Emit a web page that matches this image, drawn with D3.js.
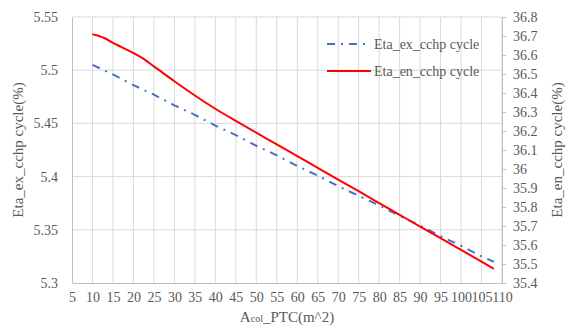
<!DOCTYPE html>
<html>
<head>
<meta charset="utf-8">
<script src="https://cdn.jsdelivr.net/npm/d3@7"></script>
</head>
<body style="margin:0">
<script>
// x values (Acol_PTC, m^2)
const xEx = [10, 15, 20, 25, 30, 35, 40, 45, 50, 55, 60, 65, 70, 75, 80, 85, 90, 95, 100, 105, 108];
const etaEx = [5.505, 5.496, 5.486, 5.477, 5.467, 5.458, 5.448, 5.439, 5.429, 5.420, 5.410,
               5.401, 5.391, 5.382, 5.373, 5.363, 5.354, 5.344, 5.335, 5.325, 5.320];
const xEn = [10, 11, 12, 13, 15, 17, 20, 22, 25, 30, 35, 40, 45, 50, 55, 60, 65, 70, 75, 80, 85, 90, 95, 100, 105, 108];
const etaEn = [36.710, 36.704, 36.697, 36.688, 36.664, 36.643, 36.610, 36.586, 36.540, 36.462, 36.387, 36.317,
               36.253, 36.191, 36.130, 36.068, 36.006, 35.944, 35.883, 35.821, 35.759, 35.697, 35.636,
               35.574, 35.512, 35.475];
const xTicks = d3.range(5, 111, 5);
const leftTicks = [5.3, 5.35, 5.4, 5.45, 5.5, 5.55];
const rightTicks = d3.range(0, 15).map(i => +(35.4 + i * 0.1).toFixed(1));

const TXT = "#595959";

const W = 578, H = 330;
const margin = {top: 17, right: 76, bottom: 47, left: 72};
const w = W - margin.left - margin.right;
const h = H - margin.top - margin.bottom;

const svg = d3.select("body").append("svg")
    .attr("width", W)
    .attr("height", H);

const g = svg.append("g")
    .attr("transform", "translate(" + margin.left + "," + margin.top + ")");

const x = d3.scaleLinear().domain([5, 110]).range([0, w]);
const yL = d3.scaleLinear().domain([5.3, 5.55]).range([h, 0]);
const yR = d3.scaleLinear().domain([35.4, 36.8]).range([h, 0]);

// gridlines
g.append("g").selectAll("line")
    .data(xTicks.slice(1))
    .enter().append("line")
    .attr("x1", d => x(d)).attr("x2", d => x(d))
    .attr("y1", 0).attr("y2", h)
    .style("stroke", "#d9d9d9").style("stroke-width", 1);
g.append("g").selectAll("line")
    .data(leftTicks.slice(1))
    .enter().append("line")
    .attr("x1", 0).attr("x2", w)
    .attr("y1", d => yL(d)).attr("y2", d => yL(d))
    .style("stroke", "#d9d9d9").style("stroke-width", 1);

// axes
const axisX = g.append("g")
    .attr("transform", "translate(0," + h + ")")
    .call(d3.axisBottom(x).tickValues(xTicks).tickSize(0).tickPadding(9).tickFormat(d3.format("d")));
const axisL = g.append("g")
    .call(d3.axisLeft(yL).tickValues(leftTicks).tickSize(0).tickPadding(14).tickFormat(d => d3.format("")(d)));
const axisR = g.append("g")
    .attr("transform", "translate(" + w + ",0)")
    .call(d3.axisRight(yR).tickValues(rightTicks).tickSize(4).tickPadding(7).tickFormat(d => d3.format("")(d)));

[axisX, axisL, axisR].forEach(a => {
  a.attr("font-family", null).attr("font-size", null);
  a.selectAll("path").style("stroke", "#bfbfbf");
  a.selectAll("line").style("stroke", "#bfbfbf");
  a.selectAll("text").attr("fill", TXT).attr("font-size", 14);
});

// lines
const lineEx = d3.line().x((d, i) => x(xEx[i])).y(d => yL(d));
const lineEn = d3.line().x((d, i) => x(xEn[i])).y(d => yR(d)).curve(d3.curveMonotoneX);

g.append("path")
    .datum(etaEx)
    .attr("d", lineEx)
    .attr("fill", "none")
    .style("stroke", "#4472c4")
    .style("stroke-width", 2)
    .style("stroke-dasharray", "8,6,2,6");

g.append("path")
    .datum(etaEn)
    .attr("d", lineEn)
    .attr("fill", "none")
    .style("stroke", "#ff0000")
    .style("stroke-width", 2);

// legend
const legend = svg.append("g");
legend.append("line")
    .attr("x1", 327).attr("x2", 370).attr("y1", 44).attr("y2", 44)
    .style("stroke", "#4472c4").style("stroke-width", 2).style("stroke-dasharray", "8,6,2,6");
legend.append("text").attr("x", 374).attr("y", 49).attr("font-size", 14).attr("fill", TXT)
    .text("Eta_ex_cchp cycle");
legend.append("line")
    .attr("x1", 327).attr("x2", 371).attr("y1", 71).attr("y2", 71)
    .style("stroke", "#ff0000").style("stroke-width", 2);
legend.append("text").attr("x", 374).attr("y", 76).attr("font-size", 14).attr("fill", TXT)
    .text("Eta_en_cchp cycle");

// axis titles
svg.append("text")
    .attr("transform", "translate(23," + (margin.top + h / 2) + ") rotate(-90)")
    .attr("text-anchor", "middle")
    .attr("font-size", 15).attr("fill", TXT)
    .text("Eta_ex_cchp cycle(%)");

svg.append("text")
    .attr("transform", "translate(562," + (margin.top + h / 2) + ") rotate(-90)")
    .attr("text-anchor", "middle")
    .attr("font-size", 15).attr("fill", TXT)
    .text("Eta_en_cchp cycle(%)");

const xt = svg.append("text")
    .attr("x", margin.left + w / 2)
    .attr("y", 322)
    .attr("text-anchor", "middle")
    .attr("font-size", 15).attr("fill", TXT);
xt.append("tspan").text("A");
xt.append("tspan").attr("font-size", 10).text("col");
xt.append("tspan").text("_PTC(m^2)");

// every text in Times-like serif
svg.selectAll("text").attr("font-family", "Liberation Serif");
svg.selectAll("text").style("font-family", "'Liberation Serif', serif");
</script>
</body>
</html>
